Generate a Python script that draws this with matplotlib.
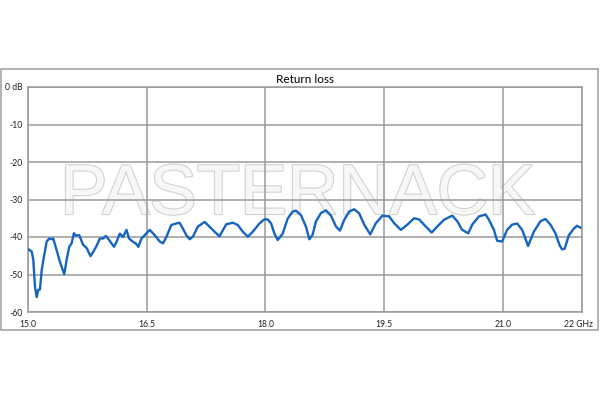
import numpy as np
import matplotlib
matplotlib.use('Agg')
import matplotlib.pyplot as plt
import matplotlib.patheffects as pe
import matplotlib.transforms as mtrans
from matplotlib.patches import Rectangle

# frequency (GHz) and return loss (dB)
freq = [15.000, 15.047, 15.067, 15.088, 15.110, 15.130, 15.151, 15.173, 15.202, 15.236,
        15.268, 15.299, 15.319, 15.362, 15.403, 15.458, 15.488, 15.521, 15.551, 15.580,
        15.605, 15.647, 15.697, 15.740, 15.790, 15.823, 15.866, 15.908, 15.949, 15.983,
        16.025, 16.055, 16.088, 16.118, 16.160, 16.201, 16.244, 16.277, 16.327, 16.361,
        16.395, 16.433, 16.475, 16.538, 16.601, 16.664, 16.706, 16.748, 16.811, 16.874,
        16.916, 16.958, 17.000, 17.042, 17.084, 17.147, 17.231, 17.273, 17.357, 17.420,
        17.462, 17.505, 17.588, 17.651, 17.714, 17.777, 17.840, 17.924, 17.987, 18.029,
        18.072, 18.114, 18.155, 18.218, 18.281, 18.344, 18.387, 18.450, 18.513, 18.555,
        18.596, 18.639, 18.702, 18.765, 18.828, 18.891, 18.942, 18.996, 19.059, 19.122,
        19.185, 19.248, 19.324, 19.396, 19.479, 19.563, 19.626, 19.711, 19.794, 19.878,
        19.941, 20.026, 20.101, 20.172, 20.256, 20.361, 20.424, 20.487, 20.563, 20.613,
        20.698, 20.782, 20.824, 20.887, 20.928, 20.991, 21.054, 21.117, 21.181, 21.244,
        21.319, 21.391, 21.475, 21.538, 21.601, 21.664, 21.715, 21.748, 21.782, 21.832,
        21.895, 21.937, 21.980]
rl = [-43.2, -43.9, -46.1, -53.2, -56.0, -54.1, -54.0, -48.8, -45.2, -41.2,
      -40.4, -40.6, -40.4, -43.5, -46.6, -49.9, -46.1, -42.6, -41.7, -39.0,
      -39.6, -39.5, -42.1, -42.9, -45.1, -44.0, -42.4, -40.4, -40.4, -39.7,
      -40.8, -41.7, -42.6, -41.3, -39.1, -40.0, -38.1, -40.4, -41.3, -41.7,
      -42.6, -40.4, -39.5, -38.1, -39.5, -41.2, -41.7, -40.0, -36.8, -36.4,
      -36.2, -37.8, -39.5, -40.6, -39.9, -37.2, -36.0, -36.8, -38.6, -39.8,
      -38.2, -36.6, -36.2, -36.8, -38.6, -39.9, -38.6, -36.4, -35.3, -35.3,
      -36.4, -39.1, -40.8, -39.1, -35.1, -33.2, -33.0, -34.2, -37.3, -40.6,
      -39.4, -35.8, -33.6, -32.9, -34.3, -37.2, -38.3, -35.4, -33.2, -32.6,
      -33.7, -36.7, -39.3, -36.3, -34.3, -34.5, -36.3, -38.1, -36.7, -35.0,
      -35.3, -37.2, -38.8, -37.2, -35.4, -34.3, -35.8, -38.1, -39.0, -36.7,
      -34.5, -34.0, -35.4, -38.1, -41.0, -41.2, -38.1, -36.7, -36.4, -38.1,
      -42.4, -38.6, -35.8, -35.2, -36.7, -39.0, -42.1, -43.3, -43.1, -39.6,
      -37.8, -37.0, -37.5]

xticks = [15.0, 16.5, 18.0, 19.5, 21.0, 22.0]
xlabels = ['15.0', '16.5', '18.0', '19.5', '21.0', '22 GHz']
yticks = [0, -10, -20, -30, -40, -50, -60]
ylabels = ['0 dB', '-10', '-20', '-30', '-40', '-50', '-60']

plt.rcParams['font.family'] = ['Lato', 'DejaVu Sans']

fig = plt.figure(figsize=(6, 4), dpi=100)
fig.patches.append(Rectangle((1 / 600, 1 - 330 / 400), 597 / 600, 261 / 400,
                             transform=fig.transFigure, fill=False,
                             edgecolor='#a6a6a6', linewidth=1.2))

ax = fig.add_axes([28 / 600, 1 - 312 / 400, 554 / 600, 225 / 400])
ax.set_xlim(15.0, 22.0)
ax.set_ylim(-60, 0)
ax.set_xticks(xticks)
ax.set_xticklabels(xlabels, fontsize=6.2)
ax.set_yticks(yticks)
ax.set_yticklabels(ylabels, fontsize=6.2)
ax.tick_params(length=0, colors='#222222')
ax.tick_params(axis='y', pad=4)
ax.tick_params(axis='x', pad=6)
ax.grid(True, color='#9a9a9a', linewidth=1.1)
for s in ax.spines.values():
    s.set_color('#9a9a9a')
    s.set_linewidth(1.1)

# last x label sits a little left of the right edge
last = ax.get_xticklabels()[-1]
last.set_transform(last.get_transform() + mtrans.ScaledTranslation(-4 / 100, 0, fig.dpi_scale_trans))

ax.plot(freq, rl, color='#1565c0', linewidth=1.7, zorder=3)

ax.set_title('Return loss', fontsize=8.5, pad=3)

fig.text(298 / 600, 1 - 196 / 400, 'PASTERNACK', fontsize=51, family='Liberation Sans',
         color='#f7f7f7', ha='center', va='center', zorder=0.5,
         path_effects=[pe.withStroke(linewidth=1.6, foreground='#d2d2d2')])
ax.set_facecolor('none')
ax.set_zorder(1)

fig.savefig('out.png', dpi=100)
